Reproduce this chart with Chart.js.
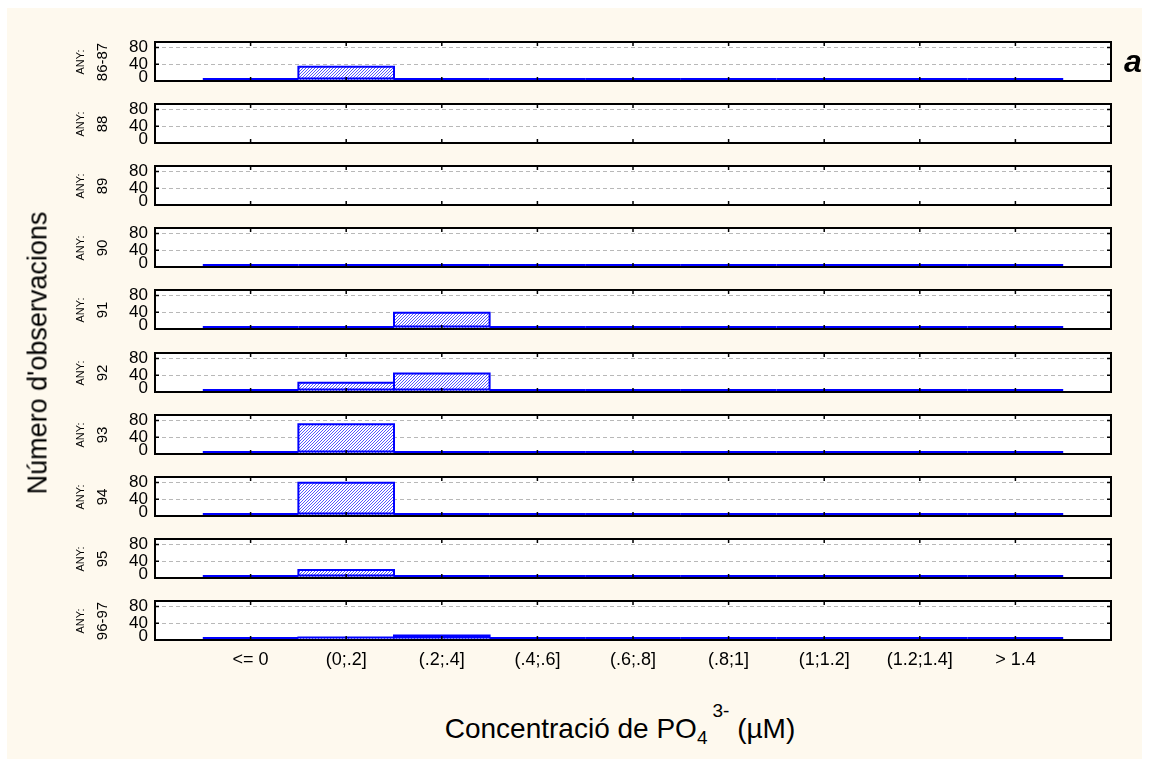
<!DOCTYPE html>
<html>
<head>
<meta charset="utf-8">
<script src="https://cdn.jsdelivr.net/npm/chart.js@4.4.1/dist/chart.umd.min.js"></script>
<style>
  html, body { margin: 0; padding: 0; background: #ffffff; }
  body { width: 1152px; height: 760px; position: relative; overflow: hidden;
         font-family: "Liberation Sans", Arial, sans-serif; color: #000; }
  #sheet { position: absolute; left: 7px; top: 8px; width: 1135px; height: 751px; background: #fef9ee; }
  canvas { position: absolute; left: 0; }
  .vlab { position: absolute; white-space: nowrap; line-height: 1;
          transform: translate(-50%, -50%) rotate(-90deg); }
  #xtitle { position: absolute; left: 620px; top: 715px; transform: translateX(-50%);
            font-size: 28px; line-height: 1; white-space: nowrap; }
  #xtitle .sub { position: relative; top: 6px; font-size: 19px; }
  #xtitle .sup { position: relative; top: -21px; font-size: 19px; margin-left: 5px; }
  #tag { position: absolute; left: 1124px; top: 45px; font-size: 32px; line-height: 1;
         font-weight: bold; font-style: italic; }
</style>
</head>
<body>
<div id="sheet"></div>
<div id="panels"></div>
<div class="vlab" style="left:37.5px; top:353px; font-size:27px;">Número d'observacions</div>
<div id="xtitle">Concentració de PO<span class="sub">4</span><span class="sup">3-</span> (µM)</div>
<div id="tag">a</div>

<script>
// Concentration classes (x axis) and sampling years (one panel each)
const categories = ['<= 0', '(0;.2]', '(.2;.4]', '(.4;.6]', '(.6;.8]', '(.8;1]', '(1;1.2]', '(1.2;1.4]', '> 1.4'];
const years = ['86-87', '88', '89', '90', '91', '92', '93', '94', '95', '96-97'];
const yTickValues = [0, 40, 80];

// Number of observations per class, one array per year
const counts8687 = [0, 34, 0, 0, 0, 0, 0, 0, 0];
const counts88   = [];
const counts89   = [];
const counts90   = [0, 0, 0, 0, 0, 0, 0, 0, 0];
const counts91   = [0, 0, 39, 0, 0, 0, 0, 0, 0];
const counts92   = [0, 22, 44, 0, 0, 0, 0, 0, 0];
const counts93   = [0, 71, 0, 0, 0, 0, 0, 0, 0];
const counts94   = [0, 79, 0, 0, 0, 0, 0, 0, 0];
const counts95   = [0, 19, 0, 0, 0, 0, 0, 0, 0];
const counts9697 = [0, 6, 11, 0, 0, 0, 0, 0, 0];

const panelCounts = [counts8687, counts88, counts89, counts90, counts91,
                     counts92, counts93, counts94, counts95, counts9697];

const FONT = '"Liberation Sans", Arial, sans-serif';
const PANEL_TOP0 = 42;     // top of the first plot frame
const PANEL_STEP = 62.1;   // vertical distance between panels
const PLOT_H = 39;         // plot frame height
const PAD_TOP = 10;

// Diagonal hatching used to fill the bars
function hatchPattern(ctx) {
  const c = document.createElement('canvas');
  c.width = 3; c.height = 3;
  const g = c.getContext('2d');
  g.fillStyle = '#ffffff';
  g.fillRect(0, 0, 3, 3);
  g.fillStyle = '#5656ff';
  for (let i = 0; i < 3; i++) g.fillRect(i, 2 - i, 1, 1);
  return ctx.createPattern(c, 'repeat');
}

// White plot area, histogram outlines, black frame and small tick marks
const panelPlugin = {
  id: 'panelFrame',
  beforeDraw(chart) {
    const { ctx, chartArea: a } = chart;
    ctx.save();
    ctx.fillStyle = '#ffffff';
    ctx.fillRect(a.left, a.top, a.right - a.left, a.bottom - a.top);
    ctx.restore();
  },
  afterDatasetsDraw(chart) {
    const { ctx, chartArea: a, scales } = chart;
    ctx.save();
    // outline of each class bar (zero classes collapse to a line on the baseline)
    ctx.strokeStyle = '#0000ff';
    ctx.lineWidth = 2;
    const meta = chart.getDatasetMeta(0);
    meta.data.forEach(bar => {
      const left = bar.x - bar.width / 2;
      const base = bar.base - 2;
      ctx.beginPath();
      if (bar.y >= base) {
        ctx.moveTo(left, base);
        ctx.lineTo(left + bar.width, base);
      } else {
        ctx.rect(left, bar.y, bar.width, base - bar.y);
      }
      ctx.stroke();
    });
    // frame
    ctx.strokeStyle = '#000000';
    ctx.lineWidth = 2;
    ctx.strokeRect(a.left, a.top, a.right - a.left, a.bottom - a.top);
    // tick marks on the frame
    ctx.lineWidth = 1.5;
    ctx.beginPath();
    yTickValues.slice(1).forEach(v => {
      const y = scales.y.getPixelForValue(v);
      ctx.moveTo(a.left - 1, y); ctx.lineTo(a.left + 4, y);
      ctx.moveTo(a.right - 4, y); ctx.lineTo(a.right + 1, y);
    });
    categories.forEach((c, i) => {
      const x = scales.x.getPixelForValue(i);
      ctx.moveTo(x, a.top - 1); ctx.lineTo(x, a.top + 4);
      ctx.moveTo(x, a.bottom - 4); ctx.lineTo(x, a.bottom + 1);
    });
    ctx.stroke();
    ctx.restore();
  }
};

const holder = document.getElementById('panels');

panelCounts.forEach((counts, k) => {
  const last = k === panelCounts.length - 1;
  const top = Math.round(PANEL_TOP0 + PANEL_STEP * k);
  const canvasH = last ? 100 : 60;

  const canvas = document.createElement('canvas');
  canvas.width = 1152;
  canvas.height = canvasH;
  canvas.style.top = (top - PAD_TOP) + 'px';
  canvas.style.width = '1152px';
  canvas.style.height = canvasH + 'px';
  holder.appendChild(canvas);

  // year label at the left of the panel
  const mid = top + PLOT_H / 2;
  const any = document.createElement('div');
  any.className = 'vlab';
  any.style.cssText = `left:80px; top:${mid}px; font-size:11px;`;
  any.textContent = 'ANY:';
  holder.appendChild(any);
  const yr = document.createElement('div');
  yr.className = 'vlab';
  yr.style.cssText = `left:100.5px; top:${mid}px; font-size:15px;`;
  yr.textContent = years[k];
  holder.appendChild(yr);

  const ctx = canvas.getContext('2d');
  new Chart(ctx, {
    type: 'bar',
    data: {
      datasets: [{
        data: counts.map((v, i) => ({ x: i, y: v })),
        backgroundColor: hatchPattern(ctx),
        borderWidth: 0,
        barPercentage: 1,
        categoryPercentage: 1,
        inflateAmount: 0
      }]
    },
    options: {
      responsive: false,
      maintainAspectRatio: false,
      animation: false,
      events: [],
      layout: { padding: { left: 0, right: 41, top: PAD_TOP, bottom: last ? 21 : canvasH - PAD_TOP - PLOT_H } },
      plugins: { legend: { display: false }, tooltip: { enabled: false } },
      scales: {
        x: {
          type: 'linear',
          offset: false,
          min: -1,
          max: categories.length,
          display: last,
          grid: { display: false, offset: false },
          border: { display: false },
          afterBuildTicks: s => { s.ticks = categories.map((c, i) => ({ value: i })); },
          afterFit: s => {
            if (last) s.height = 30;
            s.paddingLeft = 0; s.paddingRight = 0;
          },
          ticks: {
            autoSkip: false,
            maxRotation: 0,
            padding: 1,
            color: '#000',
            font: { family: FONT, size: 18 },
            callback: v => categories[v]
          }
        },
        y: {
          min: 0,
          max: 93,
          afterBuildTicks: s => { s.ticks = yTickValues.map(v => ({ value: v })); },
          afterFit: s => {
            s.width = 155;
            s.paddingTop = 0; s.paddingBottom = 0;
          },
          grid: { color: '#b8b8b8', lineWidth: 1, drawTicks: false },
          border: { display: false, dash: [4, 3] },
          ticks: {
            autoSkip: false,
            padding: 7,
            color: '#000',
            // the 0 label is lifted so it stays inside its panel
            callback: v => (v === 0 ? ['0', ''] : String(v)),
            font: c => ({
              family: FONT,
              size: 17,
              lineHeight: (c.tick && c.tick.value === 0) ? '8px' : 1.2
            })
          }
        }
      }
    },
    plugins: [panelPlugin]
  });
});
</script>
</body>
</html>
